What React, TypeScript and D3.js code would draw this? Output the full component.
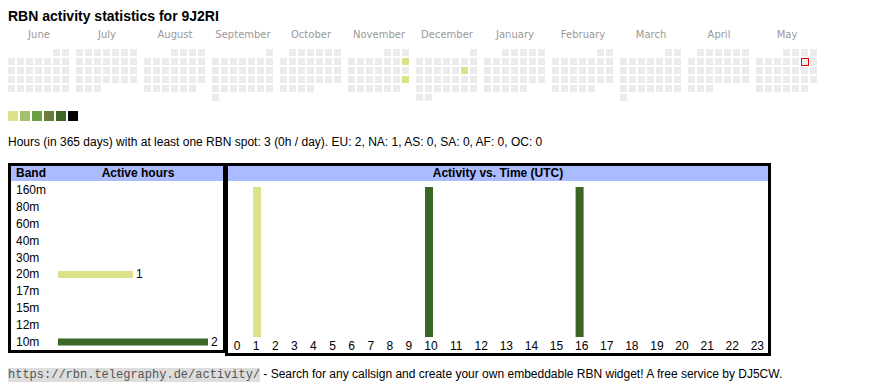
import React from "react";
import * as d3 from "d3";

const TITLE = "RBN activity statistics for 9J2RI";
const monthNames = ["June", "July", "August", "September", "October", "November", "December", "January", "February", "March", "April", "May"];
const periodStart = "2024-06-01";
const periodEnd = "2025-06-01";
const todayDate = "2025-05-10";
const activeDays = ["2024-11-10", "2024-11-24", "2024-12-14"];
const activeLevels = [1, 1, 1];
const levelColors = ["#dce28a", "#9fc26a", "#6a9f44", "#6b7c3a", "#3c6626", "#000000"];

const statsText = "Hours (in 365 days) with at least one RBN spot: 3 (0h / day). EU: 2, NA: 1, AS: 0, SA: 0, AF: 0, OC: 0";

const bands = ["160m", "80m", "60m", "40m", "30m", "20m", "17m", "15m", "12m", "10m"];
const bandHours = [0, 0, 0, 0, 0, 1, 0, 0, 0, 2];
const bandColors = ["#dce28a", "#dce28a", "#dce28a", "#dce28a", "#dce28a", "#dce28a", "#dce28a", "#dce28a", "#dce28a", "#3c6626"];

const hours = d3.range(24);
const hourValues = [0, 1, 0, 0, 0, 0, 0, 0, 0, 0, 1, 0, 0, 0, 0, 0, 1, 0, 0, 0, 0, 0, 0, 0];
const hourBand = ["", "20m", "", "", "", "", "", "", "", "", "10m", "", "", "", "", "", "10m", "", "", "", "", "", "", ""];

const footerLink = "https://rbn.telegraphy.de/activity/";
const footerText = " - Search for any callsign and create your own embeddable RBN widget! A free service by DJ5CW.";

const SANS = "'Liberation Sans', Arial, sans-serif";

export default function App() {
  const parse = d3.timeParse("%Y-%m-%d");
  const fmt = d3.timeFormat("%Y-%m-%d");
  const start = parse(periodStart)!;
  const end = parse(periodEnd)!;
  const months = d3.timeMonth.range(start, end);
  const days = d3.timeDay.range(start, end);
  const levelByDay = new Map(activeDays.map((d, i) => [d, activeLevels[i]]));

  const monthX = d3.scaleLinear().domain([0, 1]).range([8, 76]);
  const cell = 9;
  const calTop = 49;
  const col = (d: Date) => (d.getDay() + 6) % 7;

  const cells = days.map((d) => {
    const m = d3.timeMonth.floor(d);
    const mi = months.findIndex((x) => +x === +m);
    const firstCol = col(m);
    const row = Math.floor((d.getDate() - 1 + firstCol) / 7);
    const key = fmt(d);
    const lvl = levelByDay.get(key);
    return {
      x: monthX(mi) + col(d) * cell,
      y: calTop + row * cell,
      fill: lvl ? levelColors[lvl - 1] : "#ebebeb",
      today: key === todayDate,
      key,
    };
  });

  // band table
  const bandY = d3.scalePoint<string>().domain(bands).range([194, 346]);
  const bandW = d3.scaleLinear().domain([0, 2]).range([0, 150]);

  // hour table (columns sized by label width)
  const colW = hours.map((h) => (h < 10 ? 19.1 : 25.1));
  const lefts = hours.map((h, i) => 227.5 + d3.sum(colW.slice(0, i)));
  const hx = d3.scaleOrdinal<number, number>().domain(hours).range(lefts);
  const hy = d3.scaleLinear().domain([0, 1]).range([337, 187]);
  const bandColor = new Map(bands.map((b, i) => [b, bandColors[i]]));

  return (
    <svg width={870} height={390} style={{ position: "absolute", left: 0, top: 0 }} fontFamily={SANS}>
      <text x={8} y={21} fontSize={14} fontWeight="bold" fill="#000">{TITLE}</text>

      {monthNames.map((m, i) => (
        <text key={m} x={monthX(i) + 31} y={38} fontSize={10} fill="#999" textAnchor="middle" fontFamily="'DejaVu Sans', sans-serif">{m}</text>
      ))}
      {cells.map((c) => (
        <rect key={c.key} x={c.x} y={c.y} width={7} height={7} fill={c.fill} />
      ))}
      {cells.filter((c) => c.today).map((c) => (
        <rect key={"t" + c.key} x={c.x + 0.5} y={c.y + 0.5} width={7} height={7} fill="#eeeeee" stroke="#ee0000" strokeWidth={1} />
      ))}

      {levelColors.map((c, i) => (
        <rect key={c} x={8 + i * 12} y={111} width={10} height={10} fill={c} />
      ))}

      <text x={8} y={146} fontSize={12} fill="#000">{statsText}</text>

      {/* left table */}
      <rect x={11} y={166} width={212} height={15} fill="#aabbff" />
      <rect x={9.5} y={164.5} width={215} height={187} fill="none" stroke="#000" strokeWidth={3} />
      <text x={16} y={177} fontSize={12} fontWeight="bold">Band</text>
      <text x={138} y={177} fontSize={12} fontWeight="bold" textAnchor="middle">Active hours</text>
      {bands.map((b, i) => (
        <g key={b}>
          <text x={16} y={bandY(b)} fontSize={12}>{b}</text>
          {bandHours[i] > 0 && (
            <>
              <rect x={58} y={bandY(b)! - 7.5} width={bandW(bandHours[i])} height={7} fill={bandColors[i]} />
              <text x={58 + bandW(bandHours[i]) + 3} y={bandY(b)} fontSize={12}>{bandHours[i]}</text>
            </>
          )}
        </g>
      ))}

      {/* right table */}
      <rect x={228} y={166} width={540} height={15} fill="#aabbff" />
      <rect x={226.5} y={164.5} width={543} height={190} fill="none" stroke="#000" strokeWidth={3} />
      <text x={498} y={177} fontSize={12} fontWeight="bold" textAnchor="middle">Activity vs. Time (UTC)</text>
      {hours.map((h, i) => (
        <g key={h}>
          {hourValues[i] > 0 && (
            <rect x={hx(h) + 6.5} y={hy(hourValues[i])} width={8} height={hy(0) - hy(hourValues[i])} fill={bandColor.get(hourBand[i])} />
          )}
          <text x={hx(h) + colW[i] / 2} y={350} fontSize={12} textAnchor="middle">{h}</text>
        </g>
      ))}

      {/* footer */}
      <rect x={8} y={368} width={252} height={14} fill="#dddddd" />
      <text x={8} y={378} fontSize={12} fill="#555" fontFamily="'Liberation Mono', monospace">{footerLink}</text>
      <text x={260} y={378} fontSize={12} fill="#000" style={{ whiteSpace: "pre" }}>{footerText}</text>
    </svg>
  );
}
